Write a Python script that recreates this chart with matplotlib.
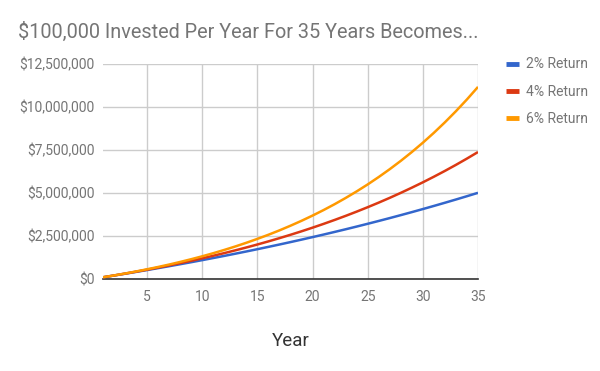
import matplotlib
matplotlib.use("Agg")
import matplotlib.pyplot as plt
from matplotlib.ticker import FuncFormatter

plt.rcParams['font.family'] = ['Roboto', 'DejaVu Sans']

years = list(range(1, 36))
# values in thousands of dollars
ret_2 = [100, 202, 306, 412, 520, 631, 743, 858, 975, 1095,
         1217, 1341, 1468, 1597, 1729, 1864, 2001, 2141, 2284, 2430,
         2578, 2730, 2884, 3042, 3203, 3367, 3534, 3705, 3879, 4057,
         4238, 4423, 4611, 4803, 4999]
ret_4 = [100, 204, 312, 425, 542, 663, 790, 921, 1058, 1201,
         1349, 1503, 1663, 1829, 2002, 2182, 2370, 2565, 2767, 2978,
         3197, 3425, 3662, 3908, 4165, 4431, 4708, 4997, 5297, 5608,
         5933, 6270, 6621, 6986, 7365]
ret_6 = [100, 206, 318, 437, 564, 698, 839, 990, 1149, 1318,
         1497, 1687, 1888, 2102, 2328, 2567, 2821, 3091, 3376, 3679,
         3999, 4339, 4700, 5082, 5486, 5916, 6371, 6853, 7364, 7906,
         8480, 9089, 9734, 10418, 11143]
series_labels = ["2% Return", "4% Return", "6% Return"]
colors = ["#3366cc", "#dc3912", "#ff9900"]
title = "$100,000 Invested Per Year For 35 Years Becomes..."
x_label = "Year"
y_ticks = [0, 2500, 5000, 7500, 10000, 12500]
x_ticks = [5, 10, 15, 20, 25, 30, 35]

fig = plt.figure(figsize=(6, 3.71), dpi=100)
ax = fig.add_axes([103/600, 1-279/371, (478-103)/600, (279-63.5)/371])

for vals, lab, c in zip([ret_2, ret_4, ret_6], series_labels, colors):
    ax.plot(years, [v * 1000 for v in vals], color=c, lw=1.8, label=lab,
            solid_capstyle='butt', zorder=3)

ax.set_xlim(1, 35)
ax.set_ylim(0, 12500000)
ax.set_yticks([v * 1000 for v in y_ticks])
ax.set_xticks(x_ticks)
ax.yaxis.set_major_formatter(FuncFormatter(lambda v, p: "${:,.0f}".format(v)))
ax.grid(True, color="#cccccc", lw=1)
ax.set_axisbelow(True)
for s in ['top', 'right', 'left']:
    ax.spines[s].set_visible(False)
ax.spines['bottom'].set_color('#333333')
ax.spines['bottom'].set_linewidth(1.2)
ax.tick_params(length=0, labelsize=10, colors='#757575', pad=6)
ax.tick_params(axis='x', pad=8)

fig.text(18/600, 1-32/371, title, fontsize=14.3, color='#757575', va='center', ha='left')
fig.text(291/600, 1-341/371, x_label, fontsize=13.5, color='#333333', va='center', ha='center')

leg = fig.legend(loc='upper left', bbox_to_anchor=(493/600, 1-45/371), frameon=False,
                 handlelength=0.95, handletextpad=0.5, labelspacing=0.95,
                 fontsize=10, labelcolor='#757575')
for h in leg.get_lines():
    h.set_linewidth(3.5)

fig.savefig("out.png", dpi=100)
